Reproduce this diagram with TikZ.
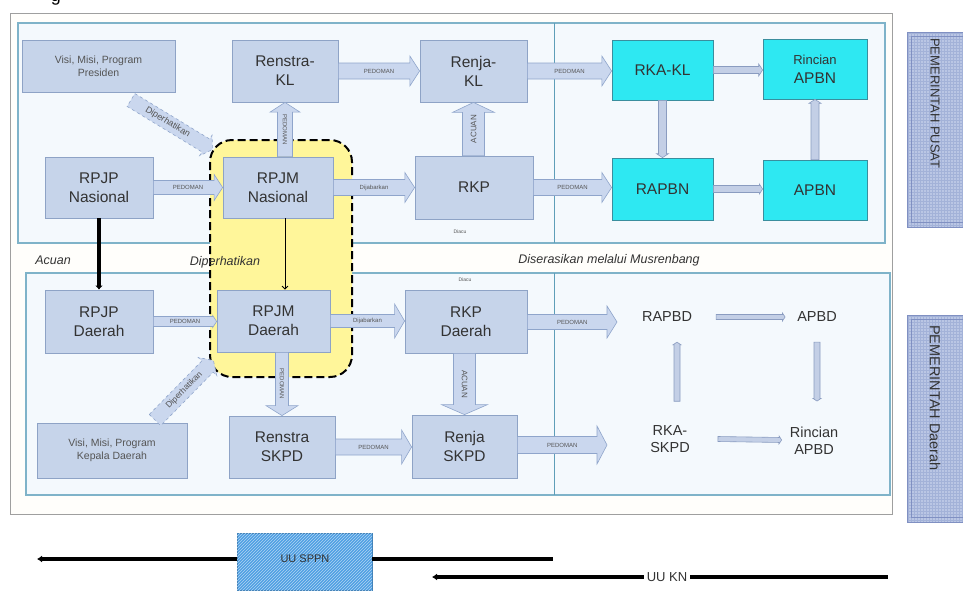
\documentclass[tikz,border=0pt]{standalone}
\usepackage{fontspec}
\setmainfont{Liberation Sans}
\usetikzlibrary{calc,arrows.meta,patterns}
\definecolor{boxfill}{HTML}{C6D4EA}
\definecolor{boxdraw}{HTML}{8EA3C6}
\definecolor{cyanfill}{HTML}{2EE8F2}
\definecolor{cyandraw}{HTML}{3A8E9E}
\definecolor{panelfill}{HTML}{F4F9FD}
\definecolor{paneldraw}{HTML}{7FB3C9}
\definecolor{divcol}{HTML}{5E9EB8}
\definecolor{arrfill}{HTML}{CAD7EE}
\definecolor{arrdraw}{HTML}{8FA5CB}
\definecolor{thinfill}{HTML}{C3CFE6}
\definecolor{thindraw}{HTML}{8A9CC0}
\definecolor{txt}{HTML}{333333}
\definecolor{txtgray}{HTML}{555555}
\definecolor{yellowfill}{HTML}{FFF69A}
\definecolor{sidefill}{HTML}{BAC6E4}
\definecolor{sidedraw}{HTML}{8090C2}
\definecolor{gridcol}{HTML}{A3B2D8}
\definecolor{sppncol}{HTML}{4F9FE3}
\definecolor{framefill}{HTML}{FFFEFB}
\tikzset{
  box/.style={draw=boxdraw, fill=boxfill, line width=0.8pt, text=txt, align=center,
    font=\fontsize{15.5}{19}\selectfont, inner sep=0pt},
  smallbox/.style={box, font=\fontsize{10.5}{13}\selectfont, text=txtgray},
  cbox/.style={box, draw=cyandraw, fill=cyanfill},
  plaintext/.style={text=txt, align=center, font=\fontsize{14.5}{17}\selectfont, inner sep=2pt},
  arrowshape/.style={draw=arrdraw, fill=arrfill, line width=0.6pt},
  thinarrow/.style={draw=thindraw, fill=thinfill, line width=0.6pt},
  arrowlabel/.style={font=\fontsize{6}{7}\selectfont, text=txtgray, inner sep=0pt},
  midlabel/.style={font=\fontsize{12.5}{14}\itshape, text=txt, inner sep=0pt},
  sidebox/.style={draw=sidedraw, fill=sidefill, line width=0.8pt, inner sep=0pt,
    path picture={\draw[gridcol, line width=0.3pt, step=3pt]
      (path picture bounding box.south west) grid (path picture bounding box.north east);}},
  sidetext/.style={font=\fontsize{13}{15}\selectfont, text=txt, inner sep=0pt},
  lawline/.style={line width=4pt, black},
}
% #1 shape opts, #2 start, #3 end, #4 label, #5 label opts, #6 shaft half width, #7 head half width
\newcommand\barrow[7][]{%
  \path let \p1=(#2), \p2=(#3) in \pgfextra{%
    \pgfmathsetmacro\tmpa{atan2(\y2-\y1,\x2-\x1)}%
    \pgfmathsetmacro\tmpb{veclen(\x2-\x1,\y2-\y1)}%
    \xdef\baang{\tmpa}\xdef\balen{\tmpb}};
  \pgfmathsetmacro\bahl{min(0.65*#7,10)}%
  \draw[arrowshape,#1,shift={(#2)},rotate=\baang]
    (0,-#6) -- ({\balen-\bahl},-#6) -- ({\balen-\bahl},-#7) -- (\balen,0)
    -- ({\balen-\bahl},#7) -- ({\balen-\bahl},#6) -- (0,#6) -- cycle;
  \path (#2) -- node[arrowlabel,#5] {#4} (#3);
}
\begin{document}
\begin{tikzpicture}[x=1pt,y=-1pt]
\useasboundingbox (0,0) rectangle (963,590);
\fill[white] (0,0) rectangle (963,590);
\node[font=\fontsize{18}{20}\selectfont, anchor=base, inner sep=0pt] (gfrag) at (56,1) {g};

% frame and panels
\draw[draw=gray!75, fill=framefill, line width=0.9pt] (10,13) rectangle (892,514);
\draw[draw=paneldraw, fill=panelfill, line width=1.2pt] (18,23) rectangle (885,243);
\draw[draw=paneldraw, fill=panelfill, line width=1.2pt] (26,273) rectangle (890,495);
\draw[divcol, line width=1pt] (554,23) -- (554,243);
\draw[divcol, line width=1pt] (554,273) -- (554,495);

% yellow region
\draw[black, line width=2pt, dash pattern=on 8pt off 4pt, fill=yellowfill, rounded corners=22pt]
  (210,140) rectangle (352,377);

% top nodes
\node[smallbox, minimum width=153pt, minimum height=52pt] (visip) at (98.5,66) {Visi, Misi, Program\\Presiden};
\node[box, minimum width=106pt, minimum height=62pt] (renstra) at (285,71) {Renstra-\\KL};
\node[box, minimum width=107pt, minimum height=62pt] (renja) at (473.5,71) {Renja-\\KL};
\node[cbox, minimum width=101pt, minimum height=60pt] (rkakl) at (662.5,70) {RKA-KL};
\node[cbox, minimum width=104pt, minimum height=60pt] (rincianapbn) at (815,69) {{\fontsize{13}{15}\selectfont Rincian}\\APBN};
\node[box, minimum width=108pt, minimum height=61pt] (rpjpn) at (99,187.5) {RPJP\\Nasional};
\node[box, minimum width=110pt, minimum height=61pt] (rpjmn) at (278,187.5) {RPJM\\Nasional};
\node[box, minimum width=118pt, minimum height=63pt] (rkp) at (474,187.5) {RKP};
\node[cbox, minimum width=101pt, minimum height=62pt] (rapbn) at (662.5,189) {RAPBN};
\node[cbox, minimum width=104pt, minimum height=60pt] (apbn) at (815,190) {APBN};

% bottom nodes
\node[box, minimum width=108pt, minimum height=63pt] (rpjpd) at (99,321.5) {RPJP\\Daerah};
\node[box, minimum width=113pt, minimum height=62pt] (rpjmd) at (273.5,321) {RPJM\\Daerah};
\node[box, minimum width=122pt, minimum height=63pt] (rkpd) at (466,321.5) {RKP\\Daerah};
\node[smallbox, minimum width=150pt, minimum height=55pt] (visid) at (112,450.5) {Visi, Misi, Program\\Kepala Daerah};
\node[box, minimum width=106pt, minimum height=62pt] (renstrad) at (282,447) {Renstra\\SKPD};
\node[box, minimum width=105pt, minimum height=63pt] (renjad) at (464.5,446.5) {Renja\\SKPD};
\node[plaintext] (rapbd) at (667,317) {RAPBD};
\node[plaintext] (apbd) at (817,317) {APBD};
\node[plaintext] (rkaskpd) at (670,439) {RKA-\\SKPD};
\node[plaintext] (rincianapbd) at (814,441) {Rincian\\APBD};

% top block arrows
\barrow{rpjpn.east}{rpjmn.west}{PEDOMAN}{}{7}{13}
\barrow{rpjmn.east}{rkp.west}{Dijabarkan}{}{8}{15}
\barrow{rkp.east}{rapbn.west |- rkp.east}{PEDOMAN}{}{8}{15}
\barrow{renstra.east}{renja.west}{PEDOMAN}{}{8}{15}
\barrow{renja.east}{rkakl.west |- renja.east}{PEDOMAN}{}{8}{15}
\barrow{rpjmn.north -| renstra.south}{renstra.south}{PEDOMAN}{rotate=-90}{7.5}{15}
\barrow{rkp.north -| renja.south}{renja.south}{ACUAN}{rotate=90,font=\fontsize{8}{9}\selectfont}{11}{21}
\coordinate (dtop) at (131,100);
\barrow[dashed]{dtop}{$(rpjmn.north west)+(-10,-7)$}{Diperhatikan}{sloped,pos=0.45,font=\fontsize{9}{10}\selectfont}{7.5}{12}

% right top thin arrows
\barrow[thinarrow]{rkakl.east}{rincianapbn.west |- rkakl.east}{}{}{3.5}{6}
\barrow[thinarrow]{rkakl.south}{rapbn.north}{}{}{4}{6}
\barrow[thinarrow]{apbn.north -| rincianapbn.south}{rincianapbn.south}{}{}{4}{6}
\barrow[thinarrow]{rapbn.east}{apbn.west |- rapbn.east}{}{}{3.5}{5}

% bottom block arrows
\barrow{rpjpd.east}{rpjmd.west |- rpjpd.east}{PEDOMAN}{}{5}{6}
\barrow{rpjmd.east}{rkpd.west |- rpjmd.east}{Dijabarkan}{}{6.5}{17}
\coordinate (rkpdend) at (617,322);
\barrow{rkpd.east |- rkpdend}{rkpdend}{PEDOMAN}{}{7.5}{16}
\barrow{rpjmd.south -| renstrad.north}{renstrad.north}{PEDOMAN}{rotate=-90}{6.5}{16}
\barrow{rkpd.south -| renjad.north}{renjad.north}{ACUAN}{rotate=-90,font=\fontsize{8}{9}\selectfont}{11}{23}
\barrow{renstrad.east}{renjad.west |- renstrad.east}{PEDOMAN}{}{8}{17}
\coordinate (renjadend) at (607,445);
\barrow{renjad.east |- renjadend}{renjadend}{PEDOMAN}{}{8.5}{19}
\coordinate (dbot) at (155,420);
\barrow[dashed]{dbot}{$(rpjmd.south west)+(-3,8)$}{Diperhatikan}{sloped,font=\fontsize{8.5}{10}\selectfont}{8}{13}

% right bottom thin arrows
\barrow[thinarrow]{$(rapbd.east)+(22,0)$}{$(apbd.west)+(-10,0)$}{}{}{2.5}{4}
\barrow[thinarrow]{$(rkaskpd.north)+(7,-22)$}{$(rapbd.south)+(10,18)$}{}{}{3}{4}
\barrow[thinarrow]{$(apbd.south)+(0,18)$}{$(apbd.south |- rincianapbd.north)+(0,-24)$}{}{}{3}{4}
\barrow[thinarrow]{$(rkaskpd.east)+(26,0)$}{$(rincianapbd.west)+(-6,-1)$}{}{}{2.5}{4}

% national to regional connectors
\draw[black, line width=4.5pt, -{Latex[length=4pt,width=8pt]}] (rpjpn.south) -- (rpjpd.north);
\draw[black, line width=0.8pt, -{Straight Barb[length=3pt,width=6pt]}] ([xshift=7pt]rpjmn.south) -- ([xshift=7pt]rpjmn.south |- rpjmd.north);

% texts between panels
\node[midlabel] (acuan) at (53,260) {Acuan};
\node[midlabel] (dipt) at (225,262) {Diperhatikan};
\node[midlabel] (diser) at (609,260) {Diserasikan melalui Musrenbang};
\node[arrowlabel, font=\fontsize{5}{6}\selectfont] (diacu1) at (460,232) {Diacu};
\node[arrowlabel, font=\fontsize{5}{6}\selectfont] (diacu2) at (465,280) {Diacu};

% side boxes
\node[sidebox, minimum width=62pt, minimum height=195pt] (pusat) at (938,129.5) {};
\draw[sidedraw, line width=0.6pt] ([shift={(5pt,-5pt)}]pusat.north west) rectangle ([shift={(-5pt,5pt)}]pusat.south east);
\node[sidetext, rotate=-90, anchor=west] (pusattxt) at (935,38) {PEMERINTAH PUSAT};
\node[sidebox, minimum width=62pt, minimum height=207pt] (daerah) at (938,418.5) {};
\draw[sidedraw, line width=0.6pt] ([shift={(5pt,-5pt)}]daerah.north west) rectangle ([shift={(-5pt,5pt)}]daerah.south east);
\node[sidetext, rotate=-90, anchor=west, font=\fontsize{14.5}{16}\selectfont] (daerahtxt) at (935,325) {PEMERINTAH Daerah};

% laws
\node[draw=sppncol!80!black, fill=sppncol, line width=0.6pt, minimum width=135pt, minimum height=57pt, inner sep=0pt,
  postaction={pattern=north east lines, pattern color=white!55!sppncol}] (sppn) at (304.5,561.5) {};
\node[font=\fontsize{11}{13}\selectfont, text=txt, inner sep=0pt] (sppntxt) at (305,559) {UU SPPN};
\coordinate (l1a) at (37,559);
\coordinate (l1b) at (553,559);
\draw[lawline, -{Latex[length=5pt,width=7pt]}] (sppn.west |- l1a) -- (l1a);
\draw[lawline] (sppn.east |- l1b) -- (l1b);
\node[font=\fontsize{13}{15}\selectfont, text=txt, inner sep=3pt] (ukn) at (667,577) {UU KN};
\coordinate (l2a) at (432,577);
\coordinate (l2b) at (888,577);
\draw[lawline, -{Latex[length=5pt,width=7pt]}] (ukn.west) -- (l2a);
\draw[lawline] (ukn.east) -- (l2b);
\end{tikzpicture}
\end{document}
